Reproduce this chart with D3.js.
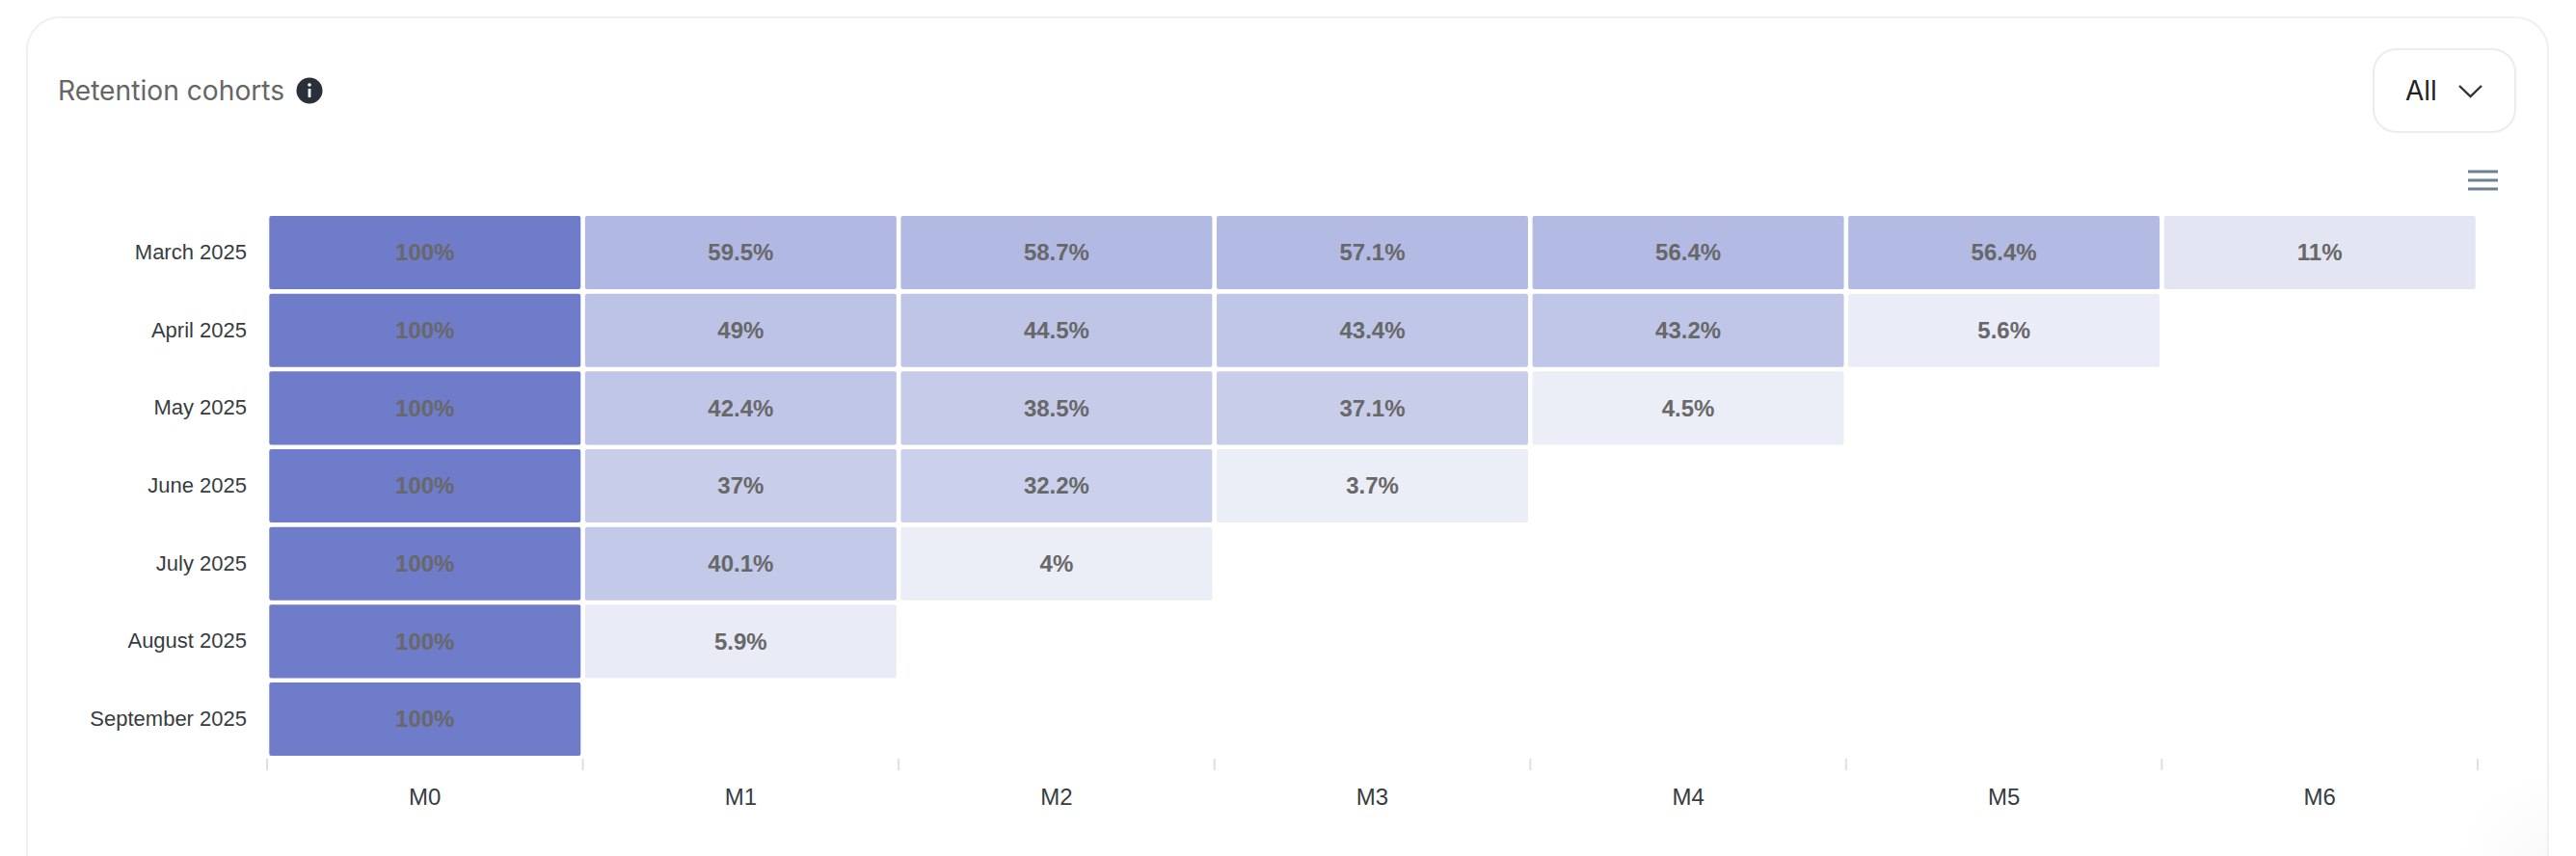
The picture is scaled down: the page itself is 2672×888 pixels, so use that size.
<!DOCTYPE html>
<html>
<head>
<meta charset="utf-8">
<script src="https://cdn.jsdelivr.net/npm/d3@7"></script>
<style>
    html, body { margin: 0; padding: 0; background: #fff; }
    svg { display: block; }
    .axis path, .axis line { display: none; }
    .axis text { font-family: "Liberation Sans", Arial, sans-serif; font-size: 22px; fill: #373d3f; }
    .axis.months text { font-size: 24px; }
</style>
</head>
<body>
<svg id="chart" width="2672" height="888"></svg>
<script>
var months = ['M0', 'M1', 'M2', 'M3', 'M4', 'M5', 'M6'];
var cohorts = ['March 2025', 'April 2025', 'May 2025', 'June 2025', 'July 2025', 'August 2025', 'September 2025'];

var march = [100, 59.5, 58.7, 57.1, 56.4, 56.4, 11];
var april = [100, 49, 44.5, 43.4, 43.2, 5.6];
var may = [100, 42.4, 38.5, 37.1, 4.5];
var june = [100, 37, 32.2, 3.7];
var july = [100, 40.1, 4];
var august = [100, 5.9];
var september = [100];
var retention = [march, april, may, june, july, august, september];

var shadeValues = [3.7, 5.6, 5.9, 11, 32.2, 37, 42.4, 49, 56.4, 59.5, 100];
var shadeColors = ['#ebeef7', '#eaedf7', '#e9ebf7', '#e3e5f3', '#cbd0ec', '#c8cdea', '#c0c6e8', '#bcc3e6', '#b3bae3', '#b1b8e3', '#6f7cc9'];

var svg = d3.select('#chart');

var defs = svg.append('defs');
var corner = defs.append('radialGradient')
    .attr('id', 'corner-shade')
    .attr('gradientUnits', 'userSpaceOnUse')
    .attr('cx', 2650).attr('cy', 900).attr('r', 110);
corner.append('stop').attr('offset', 0).attr('stop-color', '#f9f9f9');
corner.append('stop').attr('offset', 1).attr('stop-color', '#ffffff');

// card + header
svg.append('rect')
    .attr('x', 28).attr('y', 18)
    .attr('width', 2615).attr('height', 900)
    .attr('rx', 34)
    .attr('fill', '#fff')
    .attr('stroke', '#f0f0f0')
    .attr('stroke-width', 2);
svg.append('rect')
    .attr('x', 2530).attr('y', 780)
    .attr('width', 112).attr('height', 108)
    .attr('fill', 'url(#corner-shade)');

svg.append('text')
    .attr('x', 60).attr('y', 104)
    .attr('font-family', 'Inter, sans-serif')
    .attr('font-size', 28.2)
    .attr('fill', '#666')
    .text('Retention cohorts');

svg.append('circle')
    .attr('cx', 321).attr('cy', 94).attr('r', 13.5)
    .attr('fill', '#2b2f3a');
svg.append('rect')
    .attr('x', 319.6).attr('y', 92).attr('width', 2.8).attr('height', 9)
    .attr('fill', '#fff');
svg.append('circle')
    .attr('cx', 321).attr('cy', 88).attr('r', 1.8)
    .attr('fill', '#fff');

svg.append('rect')
    .attr('x', 2462).attr('y', 51)
    .attr('width', 147).attr('height', 86)
    .attr('rx', 24)
    .attr('fill', '#fff')
    .attr('stroke', '#ececec')
    .attr('stroke-width', 2);
svg.append('text')
    .attr('x', 2495).attr('y', 104)
    .attr('font-family', 'Inter, sans-serif')
    .attr('font-size', 28)
    .attr('fill', '#222')
    .text('All');
svg.append('path')
    .attr('d', 'M2551 89L2562.5 100L2574 89')
    .attr('fill', 'none')
    .attr('stroke', '#333')
    .attr('stroke-width', 2.4);

// chart menu icon
svg.selectAll('.menu-line')
    .data([178, 187, 196])
    .enter()
    .append('rect')
    .attr('class', 'menu-line')
    .attr('x', 2560).attr('y', function (d) { return d - 1.5; })
    .attr('width', 31).attr('height', 3)
    .attr('fill', '#6e8192');

// heatmap
var x = d3.scaleBand().domain(months).range([277, 2570]);
var y = d3.scaleBand().domain(cohorts).range([221.7, 786.4]);
var color = d3.scaleLinear().domain(shadeValues).range(shadeColors);
var gap = 2.3;

var rows = svg.selectAll('.cohort-row')
    .data(retention)
    .enter()
    .append('g')
    .attr('class', 'cohort-row')
    .attr('transform', function (d, i) {
        return 'translate(0,' + y(cohorts[i]) + ')';
    });

var cells = rows.selectAll('.cell')
    .data(function (d) { return d; })
    .enter()
    .append('g')
    .attr('class', 'cell')
    .attr('transform', function (d, i) {
        return 'translate(' + x(months[i]) + ',0)';
    });

cells.append('rect')
    .attr('x', gap).attr('y', gap)
    .attr('width', x.bandwidth() - gap * 2)
    .attr('height', y.bandwidth() - gap * 2)
    .attr('rx', 2)
    .attr('fill', function (d) { return color(d); });

cells.append('text')
    .attr('x', x.bandwidth() / 2)
    .attr('y', y.bandwidth() / 2)
    .attr('dy', '0.35em')
    .attr('text-anchor', 'middle')
    .attr('font-family', '"Liberation Sans", Arial, sans-serif')
    .attr('font-weight', 'bold')
    .attr('font-size', 24)
    .attr('fill', '#686868')
    .text(function (d) { return d + '%'; });

// axes
svg.append('g')
    .attr('class', 'axis')
    .attr('transform', 'translate(256,0)')
    .call(d3.axisLeft(y).tickSize(0).tickPadding(0));

svg.append('g')
    .attr('class', 'axis months')
    .attr('transform', 'translate(0,802)')
    .call(d3.axisBottom(x).tickSize(0).tickPadding(16));

svg.selectAll('.edge-tick')
    .data(months.concat('end'))
    .enter()
    .append('line')
    .attr('class', 'edge-tick')
    .attr('x1', function (d) { return d === 'end' ? x.range()[1] : x(d); })
    .attr('x2', function (d) { return d === 'end' ? x.range()[1] : x(d); })
    .attr('y1', 787).attr('y2', 799)
    .attr('stroke', '#e0e0e0')
    .attr('stroke-width', 2);
</script>
</body>
</html>
